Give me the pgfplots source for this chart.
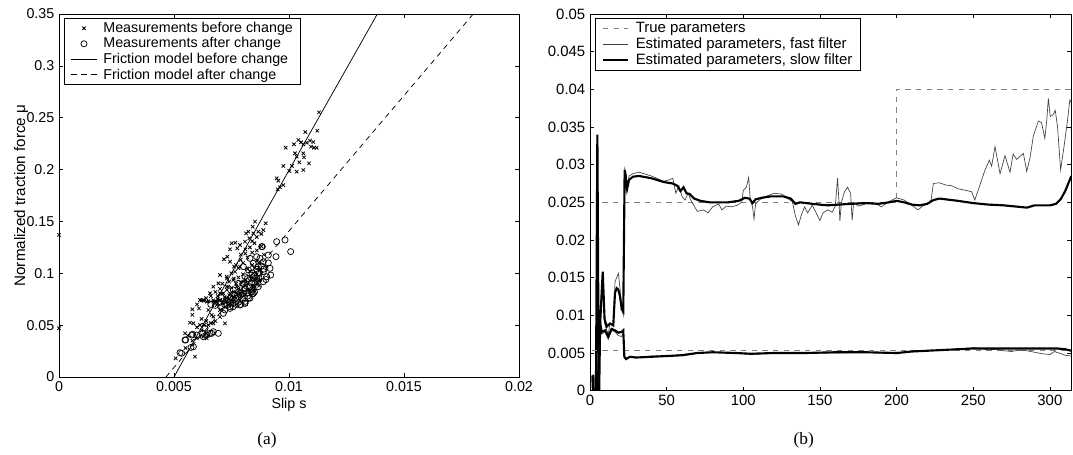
\documentclass[border=0pt]{standalone}
\usepackage{fontspec}
\setmainfont{Liberation Sans}
\newfontfamily\capfont{Liberation Serif}
\usepackage{pgfplots}
\pgfplotsset{compat=1.18}

\pgfplotsset{
  matlab/.style={
    scale only axis,
    axis line style={line width=0.6pt},
    tick align=inside,
    major tick length=3pt,
    tick style={line width=0.5pt,black},
    ticklabel style={font=\fontsize{#1}{12}\selectfont},
    label style={font=\fontsize{#1}{12}\selectfont},
    /pgf/number format/assume math mode=true,
    /pgf/number format/fixed,
    /pgf/number format/precision=3,
    scaled ticks=false,
    legend cell align=left,
    legend image code/.code={\draw[mark repeat=2,mark phase=2,##1] plot coordinates {(0pt,0pt)(9.5pt,0pt)(19pt,0pt)};},
    legend style={draw=black,line width=0.7pt,fill=white,
      font=\fontsize{#1}{12}\selectfont,
      inner xsep=4.8pt,inner ysep=1.5pt,
      column sep=3.6pt,row sep=0pt,
      nodes={inner sep=1.2pt}},
  },
}

\begin{document}
\begin{tikzpicture}
\useasboundingbox (0,0) rectangle (804.75pt,-340.5pt);

% ---------- (a) friction ----------
\begin{axis}[matlab=10.7,
  at={(44.25pt,-282.75pt)}, anchor=south west,
  width=345pt, height=272.25pt,
  xmin=0, xmax=0.02, ymin=0, ymax=0.35,
  xtick={0,0.005,0.01,0.015,0.02},
  ytick={0,0.05,0.1,0.15,0.2,0.25,0.3,0.35},
  xlabel={Slip s}, ylabel={Normalized traction force μ},
  xlabel style={yshift=2pt}, ylabel style={yshift=-8pt,font=\fontsize{11.4}{13}\selectfont},
  legend style={at={(0.011,0.989)},anchor=north west},
]
\addplot[only marks,mark=x,mark size=1.8pt,mark options={line width=0.6pt}] coordinates {
(0.011304,0.2552)(0.010710,0.2362)(0.011232,0.2375)(0.009855,0.2211)(0.010217,0.2244)(0.010406,0.2285)
(0.010522,0.2263)(0.010623,0.2244)(0.010768,0.2259)(0.010913,0.2279)(0.011058,0.2266)(0.010957,0.2221)
(0.011087,0.2211)(0.011203,0.2211)(0.010261,0.2157)(0.010333,0.2124)(0.010623,0.2157)(0.010652,0.2118)
(0.010449,0.2070)(0.010870,0.2060)(0.009754,0.2035)(0.010130,0.2035)(0.010014,0.1986)(0.010333,0.1980)
(0.010623,0.1996)(0.009464,0.1916)(0.009536,0.1893)(0.009754,0.1851)(0.009609,0.1829)(0.009507,0.1810)
(0.008986,0.1482)(0.008522,0.1498)(0.008420,0.1449)(0.008232,0.1401)(0.008130,0.1385)(0.008449,0.1385)
(0.008667,0.1401)(0.008884,0.1417)(0.008275,0.1337)(0.008087,0.1305)(0.007870,0.1273)(0.007667,0.1295)
(0.007507,0.1289)(0.007754,0.1241)(0.007435,0.1231)(0.007319,0.1160)(0.007174,0.1135)(0.007435,0.1112)
(0.007609,0.1064)(0.007000,0.0983)(0.006928,0.0903)(0.006710,0.0871)(0.006565,0.0807)(0.006275,0.0742)
(0.006130,0.0742)(0.006087,0.0662)(0.005797,0.0653)(0.005696,0.0524)(0.005841,0.0517)(0.006130,0.0501)
(0.006304,0.0501)(0.006493,0.0501)(0.006710,0.0517)(0.006275,0.0389)(0.006420,0.0373)(0.005986,0.0373)
(0.007217,0.0517)(0.005478,0.0421)(0.005072,0.0180)(0.005913,0.0196)(0.006710,0.0582)(0.007000,0.0646)
(0.006855,0.0726)(0.007145,0.0807)(0.007362,0.0871)(0.007580,0.0935)(0.007290,0.0967)(0.007652,0.1016)
(0.007870,0.1064)
(0.006710,0.0726)(0.007000,0.0742)(0.007290,0.0759)(0.007580,0.0775)(0.007870,0.0807)(0.008159,0.0839)
(0.008449,0.0871)(0.008739,0.0935)(0.007580,0.0726)(0.007870,0.0742)(0.006855,0.0694)(0.007435,0.0711)
(0.008449,0.1000)(0.008739,0.1032)(0.009029,0.1064)(0.007290,0.0871)(0.007725,0.0871)(0.008014,0.0919)
(0.008304,0.0967)(0.008594,0.0951)(0.007000,0.0807)(0.007435,0.0807)(0.006420,0.0726)(0.006493,0.0646)
(0.006638,0.0598)
(0.0071,0.0720)(0.0073,0.0730)(0.0075,0.0740)(0.0077,0.0760)(0.0079,0.0780)(0.0081,0.0800)(0.0083,0.0830)
(0.0085,0.0850)(0.0087,0.0880)(0.0080,0.0870)(0.0082,0.0900)(0.0078,0.0850)(0.0076,0.0820)(0.0074,0.0790)
(0.0072,0.0770)(0.0069,0.0750)(0.0067,0.0740)(0.0065,0.0730)(0.0063,0.0735)(0.0084,0.0950)(0.0086,0.0990)
(0.0088,0.1000)(0.0081,0.0940)(0.0079,0.0910)(0.0077,0.0900)(0.0075,0.0860)(0.0073,0.0840)(0.0071,0.0800)
(0.0069,0.0780)(0.0083,0.1020)(0.0085,0.1050)(0.0087,0.1100)(0.0089,0.1180)(0.0086,0.1220)(0.0084,0.1200)
(0.0082,0.1150)(0.0080,0.1100)(0.0078,0.1050)(0.0076,0.0950)(0.0074,0.0920)(0.0066,0.0780)(0.0068,0.0820)
(0.0070,0.0850)(0.0064,0.0760)(0.0062,0.0740)(0.0060,0.0700)(0.0058,0.0600)(0.0062,0.0560)(0.0064,0.0540)
(0.0066,0.0520)(0.0068,0.0540)(0.0070,0.0580)(0.0060,0.0480)(0.0062,0.0450)(0.0064,0.0420)(0.0065,0.0400)
(0.0056,0.0400)(0.0058,0.0350)(0.0055,0.0280)(0.0086,0.1350)(0.0084,0.1310)(0.0088,0.1380)(0.0079,0.1180)
(0.0081,0.1230)(0,0.137)(0,0.047)
(0.0072,0.0745)(0.0074,0.0755)(0.0076,0.0770)(0.0078,0.0795)(0.0080,0.0815)(0.0082,0.0845)(0.0084,0.0880)
(0.0086,0.0905)(0.0083,0.0930)(0.0081,0.0880)(0.0079,0.0840)(0.0077,0.0810)(0.0075,0.0780)(0.0073,0.0760)
(0.0070,0.0735)(0.0068,0.0725)(0.0078,0.0960)(0.0080,0.0990)(0.0082,0.1040)(0.0084,0.1080)(0.0086,0.1120)
(0.0088,0.1260)(0.0085,0.1290)(0.0083,0.1250)(0.0081,0.1190)(0.0079,0.1130)(0.0077,0.1080)(0.0075,0.1000)
(0.0073,0.0950)(0.0071,0.0900)
};
\addlegendentry{Measurements before change}
\addplot[only marks,mark=o,mark size=2.3pt,mark options={line width=0.55pt}] coordinates {
(0.009464,0.1305)(0.009826,0.1321)(0.010072,0.1209)(0.008812,0.1257)(0.009101,0.1176)(0.009435,0.1160)
(0.009174,0.1048)(0.009203,0.0983)(0.008884,0.1016)(0.008594,0.0951)(0.008522,0.0903)(0.008377,0.0823)
(0.008087,0.0711)(0.007435,0.0678)(0.007580,0.0678)(0.007217,0.0646)(0.006928,0.0421)(0.006638,0.0421)
(0.006420,0.0405)(0.006275,0.0389)(0.005986,0.0405)(0.005768,0.0405)(0.005478,0.0357)(0.005841,0.0292)
(0.005333,0.0229)
(0.008014,0.1064)(0.008232,0.1032)(0.008449,0.1096)(0.008667,0.1064)(0.008884,0.1112)(0.008594,0.1160)
(0.008304,0.1144)(0.008087,0.0967)(0.008377,0.0903)(0.008667,0.0871)(0.008884,0.0919)(0.009029,0.0967)
(0.007797,0.0903)(0.007580,0.0839)(0.008014,0.0807)(0.008232,0.0759)(0.008449,0.0807)(0.007290,0.0742)
(0.007580,0.0711)(0.007870,0.0694)(0.008087,0.0711)(0.008406,0.0800)(0.007435,0.0662)(0.007072,0.0678)
(0.007145,0.0614)(0.008739,0.1144)(0.008841,0.1257)(0.006565,0.0421)(0.006246,0.0421)(0.005812,0.0412)
(0.005507,0.0357)(0.005261,0.0234)(0.005739,0.0286)(0.006348,0.0469)(0.006710,0.0437)
(0.0077,0.0760)(0.0079,0.0790)(0.0081,0.0850)(0.0083,0.0870)(0.0085,0.0980)(0.0087,0.1000)(0.0076,0.0800)
(0.0078,0.0720)(0.0080,0.0750)(0.0082,0.0780)(0.0084,0.0840)(0.0086,0.0930)(0.0089,0.1040)(0.0091,0.1100)
(0.0090,0.0940)(0.0074,0.0720)(0.0072,0.0700)(0.0070,0.0720)(0.0068,0.0690)(0.0066,0.0700)
(0.0080,0.0900)(0.0082,0.0950)(0.0084,0.1000)(0.0086,0.1040)(0.0079,0.0700)(0.0081,0.0730)(0.0083,0.0760)
(0.0085,0.0820)(0.0087,0.0950)(0.0088,0.1070)(0.0073,0.0690)(0.0077,0.0700)
};
\addlegendentry{Measurements after change}
\addplot[black,line width=0.55pt] coordinates {(0.00500,0)(0.00917,0.1668)(0.01384,0.35)};
\addlegendentry{Friction model before change}
\addplot[black,line width=0.55pt,dash pattern=on 4pt off 3.5pt] coordinates {(0.00465,0)(0.01062,0.157)(0.01801,0.35)};
\addlegendentry{Friction model after change}
\end{axis}

% ---------- (b) parameter estimates ----------
\begin{axis}[matlab=11.2,
  at={(442.5pt,-293pt)}, anchor=south west,
  width=361pt, height=282.5pt,
  xmin=0, xmax=314, ymin=0, ymax=0.05,
  xtick={0,50,100,150,200,250,300},
  ytick={0,0.005,0.01,0.015,0.02,0.025,0.03,0.035,0.04,0.045,0.05},
  legend style={at={(0.0104,0.989)},anchor=north west},
]
\addplot[gray,line width=0.6pt,dash pattern=on 4pt off 4pt] coordinates {(8,0.025)(200,0.025)(200,0.040)(314,0.040)};
\addlegendentry{True parameters}
\addplot[black!75,line width=0.5pt] coordinates {
(1.5,0.002)(2.5,-0.003)(3.8,-0.003)(4.8,0.033)(5.8,-0.003)(6.6,0.0085)(8.3,0.0155)(9.5,0.0090)(10.9,0.0080)
(12,0.0075)(13,0.0090)(15.2,0.0085)(16.3,0.0145)(17.4,0.0150)(18.5,0.0156)(19.6,0.0135)(20.7,0.0108)(21.7,0.0100)
(22.6,0.0295)(23.3,0.0290)(24.2,0.0270)(25.5,0.0285)(28,0.0288)(32,0.0290)(40,0.0285)(48,0.0278)(52,0.0280)
(54,0.0282)(56,0.0262)(58,0.0272)(60,0.0258)(62,0.0253)(64,0.0262)(66,0.0252)(68,0.0245)(70,0.0238)(74,0.0240)
(77,0.0236)(80,0.0244)(84,0.0248)(86,0.0240)(89,0.0245)(92,0.0244)(96,0.0246)(99,0.0250)(100,0.0266)(102,0.0270)
(103.5,0.0283)(104.5,0.0255)(106,0.0244)(107,0.0228)(108,0.0248)(111,0.0254)(115,0.0258)(120,0.0262)(125,0.0261)
(129,0.0255)(132,0.0251)(134,0.0232)(136,0.0220)(138,0.0234)(140,0.0244)(142,0.0236)(145,0.0246)(148,0.0234)
(150,0.0226)(152,0.0236)(155,0.0240)(158,0.0237)(160,0.0245)(161.5,0.0282)(162.5,0.0248)(163,0.0225)(164,0.0250)
(166,0.0264)(168,0.0270)(170,0.0262)(171,0.0226)(172,0.0250)(175,0.0245)(180,0.0248)(186,0.0249)(190,0.0244)
(195,0.0251)(200,0.0256)(205,0.0253)(210,0.0246)(214,0.0240)(217,0.0245)(221,0.0250)(222.5,0.0253)(224,0.0275)
(228,0.0276)(232,0.0273)(236,0.0272)(240,0.0268)(245,0.0266)(249,0.0264)(251,0.0253)(254,0.0271)(257.7,0.0293)
(260.5,0.0306)(262,0.0298)(264.2,0.0324)(267.5,0.0288)(270.7,0.0312)(274,0.0290)(276,0.0314)(278.4,0.0307)
(280,0.0310)(282.7,0.0315)(284.9,0.0291)(287,0.0309)(289.2,0.0338)(292.5,0.0358)(294.5,0.0356)(296.7,0.0335)
(298,0.0360)(299,0.0388)(300.2,0.0364)(302,0.0366)(303.5,0.0372)(305,0.0350)(307,0.0293)(309.5,0.0328)
(311.8,0.0364)(313,0.0386)(314,0.0382)
};
\addlegendentry{Estimated parameters, fast filter}
\addplot[black,line width=1.6pt] coordinates {
(1.5,0.002)(2.5,-0.003)(3.8,-0.003)(4.8,0.034)(5.8,-0.003)(6.6,0.0089)(8.3,0.0158)(9.5,0.0095)(10.9,0.0085)
(13,0.0089)(15.2,0.0087)(16.3,0.0130)(17.4,0.0136)(18.5,0.0134)(19.6,0.0125)(20.7,0.0108)(21.7,0.0105)
(22.6,0.0293)(23.3,0.0285)(24.2,0.0268)(25.5,0.0280)(28,0.0284)(32,0.0285)(40,0.0282)(48,0.0277)(54,0.0275)
(57,0.0272)(59,0.0265)(61,0.0270)(63,0.0262)(65,0.0261)(68,0.0255)(72,0.0252)(78,0.0250)(90,0.0250)(97,0.0252)
(101,0.0256)(104,0.0255)(106,0.0249)(108,0.0254)(112,0.0256)(118,0.0258)(126,0.0258)(131,0.0255)(134,0.0248)
(137,0.0250)(145,0.0248)(155,0.0246)(162,0.0247)(170,0.0248)(180,0.0249)(188,0.0248)(195,0.0250)(200,0.0252)
(205,0.0250)(210,0.0247)(215,0.0246)(220,0.0248)(224,0.0253)(228,0.0255)(240,0.0252)(250,0.0249)(260,0.0247)
(270,0.0246)(280,0.0244)(285,0.0243)(290,0.0246)(300,0.0246)(304,0.0248)(307,0.0254)(310,0.0265)(312,0.0275)
(314,0.0285)
};
\addlegendentry{Estimated parameters, slow filter}
\addplot[gray,line width=0.6pt,dash pattern=on 4pt off 4pt,forget plot] coordinates {(1,0.0053)(314,0.0053)};
\addplot[black!75,line width=0.5pt,forget plot] coordinates {
(1.5,0.002)(2.2,0.002)(2.8,-0.003)(4.3,-0.003)(5.5,0.003)(6.2,0.0092)(7.6,0.0075)(9.8,0.0078)(11.9,0.0068)
(14.1,0.0080)(16.3,0.0078)(18.5,0.0073)(20.7,0.0072)(21.7,0.0076)(22.4,0.0046)(23.5,0.0043)(26,0.0045)(30,0.0044)
(40,0.0046)(50,0.0046)(60,0.0048)(70,0.0050)(80,0.0051)(95,0.0050)(105,0.0048)(120,0.0050)(140,0.0050)(160,0.0050)
(180,0.0051)(200,0.0049)(210,0.0053)(230,0.0054)(250,0.0057)(256,0.0056)(260,0.0054)(265,0.0055)(270,0.0053)
(275,0.0052)(280,0.0054)(285,0.0053)(290,0.0051)(295,0.0049)(300,0.0048)(303,0.0052)(306,0.0050)(310,0.0047)
(314,0.0046)
};
\addplot[black,line width=1.6pt,forget plot] coordinates {
(1.5,0.002)(2.2,0.002)(2.8,-0.003)(4.3,-0.003)(5.5,0.003)(6.2,0.0095)(7.6,0.0078)(9.8,0.0080)(11.9,0.0072)
(14.1,0.0082)(16.3,0.0080)(18.5,0.0077)(20.7,0.0078)(21.7,0.0080)(22.4,0.0045)(23.5,0.0042)(26,0.0045)(30,0.0044)
(40,0.0045)(50,0.0046)(60,0.0047)(70,0.0050)(80,0.0051)(95,0.0050)(105,0.0049)(120,0.0050)(140,0.0050)(160,0.0051)
(180,0.0051)(200,0.0050)(210,0.0052)(230,0.0054)(250,0.0056)(270,0.0056)(290,0.0056)(305,0.0056)(310,0.0055)
(314,0.0053)
};
\end{axis}

\node[font=\capfont\fontsize{13}{15}\selectfont] at (200.25pt,-330pt) {(a)};
\node[font=\capfont\fontsize{13}{15}\selectfont] at (602.8pt,-330pt) {(b)};
\end{tikzpicture}
\end{document}
